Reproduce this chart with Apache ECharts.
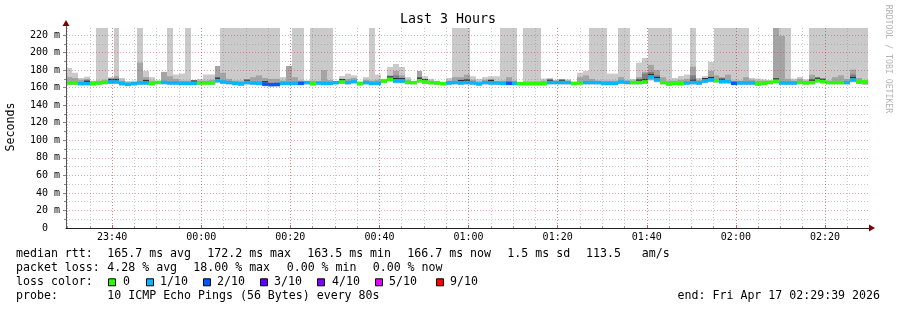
<!DOCTYPE html>
<html><head><meta charset="utf-8">
<script src="https://cdn.jsdelivr.net/npm/echarts@6/dist/echarts.min.js"></script>
<style>html,body{margin:0;padding:0;background:#fff;}#c{width:897px;height:310px;}</style>
</head><body><div id="c"></div>
<script>
// ---------------- DATA ----------------
const startTime = '23:29:39';          // left edge of the graph
const endTime = '02:29:39';            // right edge of the graph
const stepSeconds = 80;                // one smoke column per 80 s probe round
const T = 250;                         // ping values beyond the top of the scale

const smokeMax = [182.5,177,171,172.5,168,T,T,172,T,171,
  167.5,168,T,179,172,168,178,T,175,176,
  T,167.6,170,175,175,184.7,T,T,T,T,
  T,T,T,T,T,T,172,184.7,T,T,
  168,T,T,T,T,167.5,173.3,176,174,167.2,
  172,T,175,170,183.6,187,183.6,172,167.2,179,
  173,170,168,166.5,171,T,T,T,173,170,
  172,173,173,T,T,T,166.5,T,T,T,
  170.3,171,169,169.5,169.5,166.5,177,179,T,T,
  T,176,176,T,T,170,188.5,193.8,T,T,
  T,T,171,173.3,175,T,171,173.3,189.3,T,
  T,T,T,T,T,171,170.3,169.5,168.4,T,
  T,T,170.3,172.2,169.5,T,T,T,T,T,
  T,T,T,T,T];
const smokeMid = [172,171,169,170,167,168,169,171,173,168,
  166,166,188.5,172,168,167,177.9,173,170,168,
  168,167,168,168,169,184.7,177,170,168,168,
  169,172,174,171,170,170,168,184.7,172,168,
  166,168,167,179.8,168.5,167,169,170,171,166.5,
  169,168,169,169,174,179,174,169,167,179,
  169,168,167,166,168,172,172,174.8,169,167,
  169,170,167,168,172,168,166,167,167,167,
  168,169,168,168,168,166,172,174,170,168,
  168,168,168,172,168,168,172,178,186,180,
  172,168,168,169,170,184,169,170,179,174,
  172,174.8,168,168,172,169,168,168,168,T,
  219,170,168,170,168,174.8,172,170,168,172,
  174,170,180.6,171,168];
// top of the dark inner smoke (0 = none visible)
const smokeDark = [0,0,0,168,0,0,0,169,170,0,
  0,0,0,168,0,0,0,0,0,0,
  0,167.5,0,0,0,172,0,0,0,0,
  167.5,0,0,166,0,0,0,0,0,0,
  0,0,0,0,0,0,168.5,0,0,0,
  0,0,0,0,172,174,171,0,0,172,
  168,0,0,0,0,0,168,170,0,0,
  0,168,0,0,0,0,0,0,0,0,
  0,168,0,168,0,0,0,0,0,0,
  0,0,0,0,0,0,170,176,178,174,
  0,0,0,0,0,174,0,169.5,172,0,
  170,0,0,0,0,0,0,0,0,170,
  0,0,0,0,0,170,170,169,0,0,
  0,0,175,0,0];
const smokeMin = [163,163,162.5,162.5,162,163,163.5,164,164,162,
  161.5,162.5,163,163,162.5,163.5,163.5,163,163,162.5,
  162.5,162.5,163,163,163,165.5,164,163.5,162.5,162,
  163.5,163,162.5,161.5,161,161,162.5,162.5,162.5,162.5,
  163.5,162.5,163,162.5,162.5,163.5,164,163.5,164.5,162.5,
  163.5,162.5,162.5,165,167,165,165,163.5,163.5,165.5,
  164,163.5,163,162.5,163,163.5,163,163.5,163,162,
  163.5,163,163,162.5,162.5,162.5,162.5,162.5,162.5,162.5,
  162.5,163.5,163.5,163.5,163.5,162.5,163,163.5,163.5,163.5,
  162.5,162.5,162.5,164,163.5,163.5,163.5,164,168,166,
  163.5,162,162.5,162.5,163,163.5,163,165,166,165.5,
  164.5,164.5,162.5,163,163,163,162,162.5,163.5,164.5,
  163,163,163,163.5,163,163.5,165.5,164.5,163.5,163.5,
  163.5,163.5,166,164,163];
const median = [165.4,165.4,164.6,164.6,165.0,165.4,166.0,166.5,166.5,165.0,
  163.8,164.6,165.4,165.4,164.6,166.0,166.0,165.4,165.4,165.0,
  165.0,165.0,165.4,165.4,165.4,168.0,166.5,165.8,165.0,164.3,
  165.8,165.4,165.0,164.0,163.5,163.7,165.0,165.0,165.0,165.0,
  165.8,164.6,165.4,165.0,165.0,165.8,166.5,165.8,166.9,164.6,
  165.8,165.0,165.0,167.6,169.5,167.6,167.6,166.0,165.8,168.0,
  166.5,165.8,165.4,164.6,165.4,165.8,165.4,165.8,165.4,164.3,
  165.8,165.4,165.4,165.0,165.0,165.0,164.6,164.6,164.6,164.6,
  164.6,165.8,165.8,165.8,165.8,165.0,165.4,165.8,165.8,165.8,
  165.0,165.0,165.0,166.5,166.0,165.8,165.8,166.5,172.2,168.8,
  165.8,164.3,165.0,164.6,165.4,165.8,165.4,167.6,168.8,168.0,
  166.9,166.9,165.0,165.4,165.4,165.4,164.3,165.0,166.0,167.2,
  165.4,165.4,165.4,166.0,165.4,165.8,168.0,166.9,165.8,165.8,
  165.8,165.8,168.8,166.5,166.7];
const lossTenths = [0,0,1,1,0,0,0,1,1,1,
  1,1,1,1,0,0,1,1,1,1,
  1,1,0,0,0,1,1,1,1,1,
  1,1,1,2,2,2,1,1,1,2,
  1,0,1,1,1,1,0,1,1,0,
  1,1,1,0,0,1,1,0,0,0,
  0,0,0,0,1,1,1,1,1,1,
  1,1,1,1,2,1,0,0,0,0,
  0,1,1,1,1,0,0,1,1,1,
  1,1,1,1,1,0,0,0,1,1,
  0,0,0,0,1,1,1,1,1,0,
  1,1,2,1,1,1,0,0,0,0,
  1,1,1,0,0,0,0,0,0,0,
  0,1,1,0,0];

const lossLabels = ['0','1/10','2/10','3/10','4/10','5/10','9/10'];
const lossColors = ['#26ff00','#00b8ff','#0059ff','#5e00ff','#7e00ff','#dd00ff','#ff0000'];
const xTickLabels = ['23:40','00:00','00:20','00:40','01:00','01:20','01:40','02:00','02:20'];
const yTickValues = [0,20,40,60,80,100,120,140,160,180,200,220];
const yMax = 228;

const titleText = 'Last 3 Hours';
const yAxisName = 'Seconds';
const statLines = [
  ['median rtt:', '165.7 ms avg', '172.2 ms max', '163.5 ms min', '166.7 ms now', '1.5 ms sd', '113.5   am/s'],
  ['packet loss:', '4.28 % avg', '18.00 % max', '0.00 % min', '0.00 % now']
];
const lossColorLabel = 'loss color:';
const probeLine = ['probe:', '10 ICMP Echo Pings (56 Bytes) every 80s'];
const endText = 'end: Fri Apr 17 02:29:39 2026';
const sideText = 'RRDTOOL / TOBI OETIKER';

// ---------------- LAYOUT ----------------
const G = {left: 66, top: 28, right: 868, bottom: 228};
const FONT = '"DejaVu Sans Mono", "Liberation Mono", monospace';
const statX = [[16,107.3,207.3,307.3,407.3,507.3,586],[16,107.3,193.3,286.7,372.7]];
const lineY = [254.3, 268.3, 282.3, 296.3];
const boxX = [108, 146, 203, 260, 317, 375, 436];
const boxLabelX = [123, 160, 217, 274, 332, 389, 450];

// minutes measured from 23:00 of the first day
function toMin(s) {
  const p = s.split(':').map(Number);
  let h = p[0]; if (h < 23) h += 24;
  return (h - 23) * 60 + p[1] + (p[2] || 0) / 60;
}
function fmtMin(m) {
  let tot = Math.round(m) + 23 * 60;
  tot = tot % 1440;
  const h = Math.floor(tot / 60), mm = tot % 60;
  return String(h).padStart(2, '0') + ':' + String(mm).padStart(2, '0');
}
const xMin = toMin(startTime), xMax = toMin(endTime);
const majorX = xTickLabels.map(toMin);
const minorX = [];
for (let m = Math.ceil(xMin / 5) * 5; m <= xMax; m += 5) minorX.push(m);
const minorY = [];
for (let v = 10; v <= 220; v += 20) minorY.push(v);

const stepMin = stepSeconds / 60;
const seriesData = median.map((m, i) => [
  xMin + i * stepMin, xMin + (i + 1) * stepMin,
  smokeMin[i], smokeMid[i], smokeMax[i], m, lossTenths[i], smokeDark[i]
]);

function lossColor(t) {
  if (t <= 0) return lossColors[0];
  if (t >= 9) return lossColors[6];
  if (t >= 5) return lossColors[5];
  return lossColors[Math.round(t)];
}

function renderItem(params, api) {
  const cs = params.coordSys;
  const x0 = Math.round(api.coord([api.value(0), 0])[0]);
  const x1 = Math.round(api.coord([api.value(1), 0])[0]);
  const yOf = v => api.coord([api.value(0), v])[1];
  const box = {x: cs.x, y: cs.y, width: cs.width, height: cs.height};
  const clip = r => echarts.graphic.clipRectByRect(r, box);
  const children = [];
  const loV = api.value(2), medV = api.value(5), darkV = api.value(7);
  const lo = yOf(loV), mid = yOf(api.value(3)), hi = yOf(api.value(4)), med = yOf(medV);
  const w = x1 - x0;
  const r1 = clip({x: x0, y: hi, width: w, height: lo - hi});
  if (r1) children.push({type: 'rect', shape: r1, style: {fill: '#cacaca'}});
  const midLo = yOf(loV + 0.8);
  const r2 = clip({x: x0, y: mid, width: w, height: midLo - mid});
  if (r2 && r2.height > 0) children.push({type: 'rect', shape: r2, style: {fill: '#a4a4a4'}});
  if (darkV > medV) {
    const dk = yOf(darkV);
    children.push({type: 'rect', shape: {x: x0, y: dk, width: w, height: med - dk}, style: {fill: '#7e7e7e'}});
    children.push({type: 'rect', shape: {x: x0, y: med - 3, width: w, height: 1.2}, style: {fill: '#323232'}});
  }
  const bh = 3.4;
  children.push({type: 'rect', shape: {x: x0, y: med - bh / 2, width: w, height: bh},
    style: {fill: lossColor(api.value(6))}});
  return {type: 'group', children};
}

const chart = echarts.init(document.getElementById('c'), null, {renderer: 'canvas'});

function txt(x, y, s, opt) {
  opt = opt || {};
  return {type: 'text', x: x, y: y, rotation: opt.rot || 0, silent: true, z: 100,
    style: {text: s, font: (opt.size || 11.6) + 'px ' + FONT, fill: opt.color || '#000',
      align: opt.align || 'left', textAlign: opt.align || 'left',
      verticalAlign: 'middle', textVerticalAlign: 'middle'}};
}

const graphics = [];
graphics.push(txt(448, 20, titleText, {size: 13.3, align: 'center'}));
graphics.push(txt(11, 127, yAxisName, {rot: Math.PI / 2, align: 'center'}));
graphics.push(txt(888, 59, sideText, {rot: -Math.PI / 2, align: 'center', size: 8.2, color: '#b4b4b4'}));
statLines.forEach((row, r) => row.forEach((s, k) => graphics.push(txt(statX[r][k], lineY[r], s))));
graphics.push(txt(16, lineY[2], lossColorLabel));
lossLabels.forEach((l, k) => {
  graphics.push({type: 'rect', silent: true, z: 100,
    shape: {x: boxX[k] + 0.5, y: lineY[2] - 3.5, width: 7, height: 7},
    style: {fill: lossColors[k], stroke: '#000', lineWidth: 1}});
  graphics.push(txt(boxLabelX[k], lineY[2], l));
});
graphics.push(txt(16, lineY[3], probeLine[0]));
graphics.push(txt(107.3, lineY[3], probeLine[1]));
graphics.push(txt(880, lineY[3], endText, {align: 'right'}));
// axis arrows
graphics.push({type: 'polygon', silent: true, z: 100,
  shape: {points: [[G.right + 1, G.bottom - 3.5], [G.right + 7, G.bottom], [G.right + 1, G.bottom + 3.5]]},
  style: {fill: '#800000'}});
graphics.push({type: 'polygon', silent: true, z: 100,
  shape: {points: [[G.left - 3.5, G.top - 2], [G.left, G.top - 8], [G.left + 3.5, G.top - 2]]},
  style: {fill: '#800000'}});
// axis line extensions
graphics.push({type: 'line', silent: true, z: 99,
  shape: {x1: G.right, y1: G.bottom + 0.5, x2: G.right + 2, y2: G.bottom + 0.5}, style: {stroke: '#222', lineWidth: 1}});
graphics.push({type: 'line', silent: true, z: 99,
  shape: {x1: G.left + 0.5, y1: G.top, x2: G.left + 0.5, y2: G.top - 3}, style: {stroke: '#555', lineWidth: 1}});

const minorGrid = 'rgba(140,140,140,0.45)';
const majorGrid = 'rgba(205,40,40,0.42)';

chart.setOption({
  animation: false,
  backgroundColor: '#ffffff',
  grid: {left: G.left, top: G.top, width: G.right - G.left, height: G.bottom - G.top, containLabel: false},
  xAxis: [
    {type: 'value', min: xMin, max: xMax, position: 'bottom', z: 5,
      axisLine: {show: true, onZero: false, lineStyle: {color: '#222', width: 1}},
      axisTick: {show: true, customValues: minorX, length: 2, inside: true, lineStyle: {color: '#999'}},
      axisLabel: {show: false},
      splitLine: {show: true, lineStyle: {color: minorGrid, width: 1, type: [1, 2]}}},
    {type: 'value', min: xMin, max: xMax, position: 'bottom', z: 6,
      axisLine: {show: false},
      axisTick: {show: true, customValues: majorX, length: 3, inside: true, lineStyle: {color: '#c06060'}},
      axisLabel: {show: true, customValues: majorX, margin: 4, formatter: v => fmtMin(v),
        fontFamily: FONT, fontSize: 10, color: '#000'},
      splitLine: {show: true, lineStyle: {color: majorGrid, width: 1, type: [1, 2]}}}
  ],
  yAxis: [
    {type: 'value', min: 0, max: yMax, position: 'left', z: 5,
      axisLine: {show: true, onZero: false, lineStyle: {color: '#555', width: 1}},
      axisTick: {show: true, customValues: minorY, length: 2, lineStyle: {color: '#888'}},
      axisLabel: {show: false},
      splitLine: {show: true, lineStyle: {color: minorGrid, width: 1, type: [1, 2]}}},
    {type: 'value', min: 0, max: yMax, position: 'left', z: 6,
      axisLine: {show: false},
      axisTick: {show: true, customValues: yTickValues.filter(v => v > 0), length: 3, lineStyle: {color: '#888'}},
      axisLabel: {show: true, customValues: yTickValues, margin: 6,
        formatter: v => v === 0 ? '0  ' : v + ' m', fontFamily: FONT, fontSize: 10, color: '#000'},
      splitLine: {show: true, lineStyle: {color: majorGrid, width: 1, type: [1, 2]}}}
  ],
  series: [{
    type: 'custom', xAxisIndex: 0, yAxisIndex: 0, renderItem: renderItem,
    data: seriesData, clip: true, z: 2, silent: true
  }],
  graphic: graphics
});
</script>
</body></html>
